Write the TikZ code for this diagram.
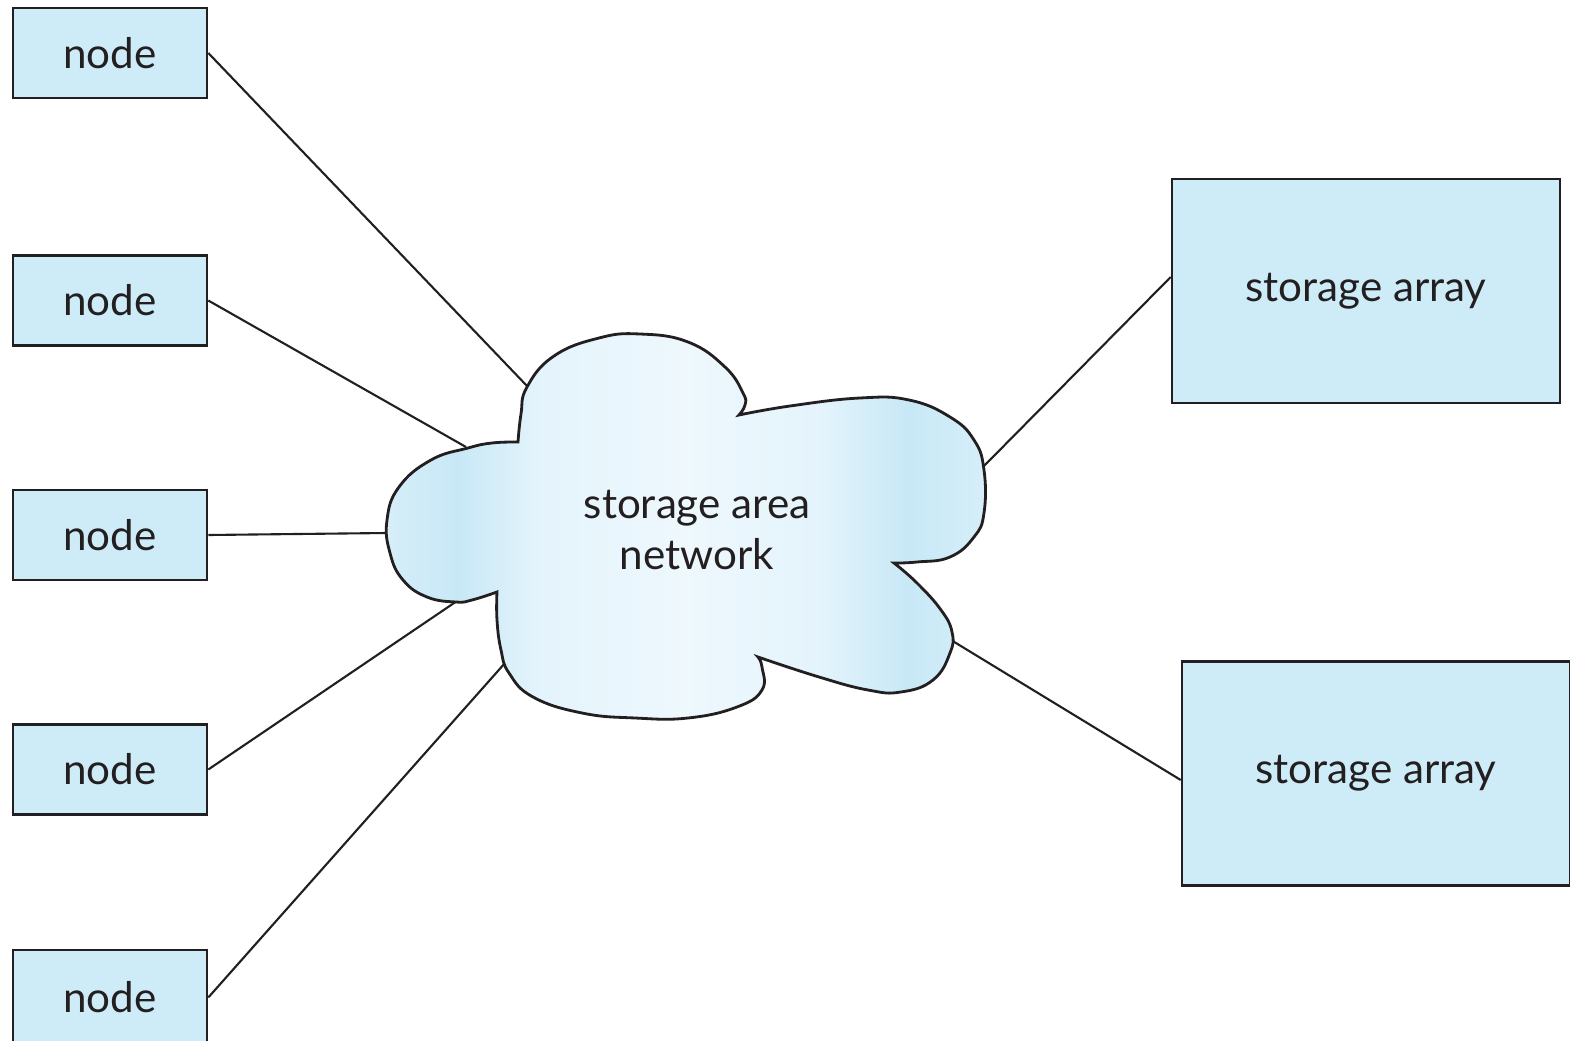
\documentclass[tikz,border=0pt]{standalone}
\usepackage{fontspec}
\setmainfont{Lato}
\definecolor{boxfill}{RGB}{205,236,248}
\definecolor{inkline}{RGB}{35,31,32}
\definecolor{cloudedge}{RGB}{214,238,249}
\definecolor{cloudband}{RGB}{200,232,246}
\definecolor{cloudsoft}{RGB}{228,244,252}
\definecolor{cloudmid}{RGB}{238,248,253}
\pgfdeclarehorizontalshading{sanshade}{100bp}{color(0bp)=(cloudedge); color(25bp)=(cloudedge); color(31bp)=(cloudband); color(38bp)=(cloudsoft); color(50bp)=(cloudmid); color(61bp)=(cloudsoft); color(68.5bp)=(cloudband); color(75bp)=(cloudedge); color(100bp)=(cloudedge)}
\begin{document}
\begin{tikzpicture}[x=0.02cm, y=-0.02cm, every node/.style={text=inkline, font=\fontsize{24}{28.5}\selectfont}, hostbox/.style={draw=inkline, line width=1.5pt, fill=boxfill, minimum width=3.88cm, minimum height=1.8cm, inner sep=0pt}, arraybox/.style={hostbox, minimum width=7.76cm, minimum height=4.48cm}, link/.style={draw=inkline, line width=1.2pt}, lobe/.style={smooth, tension=0.75}]
	\useasboundingbox (0,0) rectangle (1570,1041);
	% hosts on the left
	\node[hostbox] (host1) at (110,53) {node};
	\node[hostbox] (host2) at (110,300.5) {node};
	\node[hostbox] (host3) at (110,535) {node};
	\node[hostbox] (host4) at (110,769.5) {node};
	\node[hostbox, minimum height=1.9cm] (host5) at (110,997.5) {node};
	% storage on the right
	\node[arraybox] (array1) at (1366,291) {storage array};
	\node[arraybox] (array2) at (1376,773.5) {storage array};
	% where the links touch the cloud
	\coordinate (san1) at (528,387);
	\coordinate (san2) at (466,447);
	\coordinate (san3) at (387,533);
	\coordinate (san4) at (457,601);
	\coordinate (san5) at (505,663);
	\coordinate (san6) at (983,467);
	\coordinate (san7) at (951,640);
	\foreach \i in {1,...,5}
		\path[link] (host\i.east) -- (san\i);
	\path[link] (san6) -- ([yshift=0.28cm]array1.west);
	\path[link] (san7) -- ([yshift=-0.13cm]array2.west);
	% the cloud
	\draw[inkline, line width=1.6pt, shading=sanshade]
		(518,442) plot[lobe] coordinates {(518,442) (521,414) (527,387) (554,356) (599,338) (640,334) (688,342) (725,367) (743,393) (745,405) (739,415)}
		-- plot[lobe] coordinates {(739,415) (790,406) (860,398) (909,400) (950,417) (974,440) (984,470) (984,513) (974,537) (950,557) (917,562) (894,563)}
		-- plot[lobe] coordinates {(894,563) (917,583) (941,610) (952,632) (950,653) (933,680) (901,692) (868,690) (819,677) (758,657)}
		-- plot[lobe] coordinates {(758,657) (762,667) (762,690) (737,707) (688,718) (635,718) (582,713) (533,697) (509,673) (501,650) (497,620) (497,592)}
		-- plot[lobe] coordinates {(497,592) (472,600) (456,602) (427,597) (403,580) (390,553) (387,520) (399,487) (431,460) (468,448) (492,443) (518,442)}
		-- cycle;
	\node[align=center] (sanlabel) at (697,530) {storage area\\network};
\end{tikzpicture}
\end{document}
